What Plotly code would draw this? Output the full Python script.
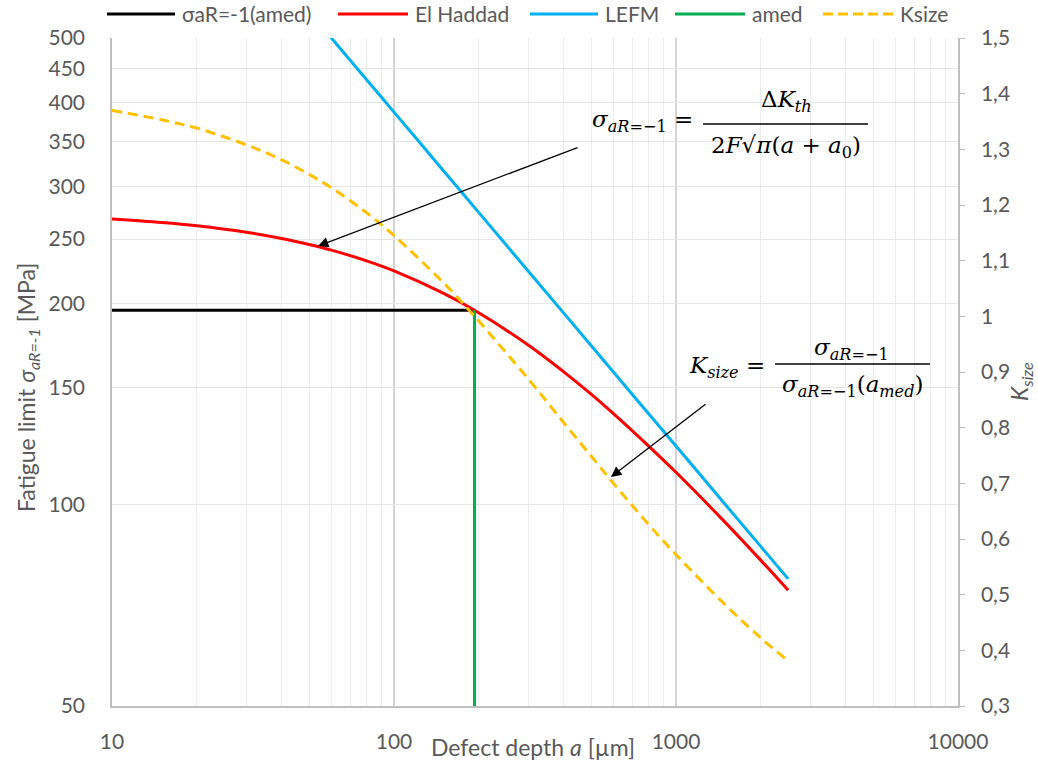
import plotly.graph_objects as go

# Defect depth a [µm] at which the curves are tabulated
depth = [10, 15, 20, 30, 40, 50, 60, 80, 100, 150, 193, 300, 400, 500, 600, 800, 1000, 1500, 2000, 2500]

# El Haddad fatigue limit [MPa]
el_haddad = [267.9, 264.7, 261.7, 255.9, 250.5, 245.4, 240.7, 231.9, 224.0, 207.3, 195.6,
             173.4, 158.2, 146.5, 137.0, 122.5, 111.9, 94.0, 82.6, 74.5]

# LEFM fatigue limit [MPa]
lefm_depth = [50, 60, 80, 100, 150, 200, 300, 400, 500, 600, 800, 1000, 1500, 2000, 2500]
lefm = [547.7, 500.0, 433.0, 387.3, 316.2, 273.9, 223.6, 193.7, 173.2, 158.1, 136.9, 122.5, 100.0, 86.6, 77.5]

# Size factor K_size (right axis)
k_size = [1.370, 1.353, 1.338, 1.308, 1.281, 1.255, 1.231, 1.186, 1.145, 1.060, 1.000,
          0.887, 0.809, 0.749, 0.700, 0.626, 0.572, 0.481, 0.422, 0.381]

# Median defect depth and its fatigue limit
a_med = 193
sigma_med = 195.6
amed_line_depth = [10, a_med]
amed_line_sigma = [sigma_med, sigma_med]
green_depth = [a_med, a_med]
green_sigma = [50, sigma_med]

# Axis ticks
x_ticks = [10, 100, 1000, 10000]
x_minor = [20, 30, 40, 50, 60, 70, 80, 90, 200, 300, 400, 500, 600, 700, 800, 900,
           2000, 3000, 4000, 5000, 6000, 7000, 8000, 9000]
y_ticks = [50, 100, 150, 200, 250, 300, 350, 400, 450, 500]
y2_ticks = [0.3, 0.4, 0.5, 0.6, 0.7, 0.8, 0.9, 1.0, 1.1, 1.2, 1.3, 1.4, 1.5]
y2_text = ["0,3", "0,4", "0,5", "0,6", "0,7", "0,8", "0,9", "1", "1,1", "1,2", "1,3", "1,4", "1,5"]

BLACK, RED, BLUE, GREEN, YELLOW = "#000000", "#FF0000", "#00B0F0", "#00B050", "#FFC000"
TXT = "#595959"
FONT = "Lato"
MATH = "DejaVu Serif"
TICK_SIZE = 21

W, H = 1038, 764
L, R, T, B = 112, 80, 38, 58
PW, PH = W - L - R, H - T - B


def px(xp):
    return (xp - L) / PW


def py(yp):
    return (H - B - yp) / PH


fig = go.Figure()
fig.add_trace(go.Scatter(x=amed_line_depth, y=amed_line_sigma, mode="lines",
                         line=dict(color=BLACK, width=3), name="σaR=-1(amed)"))
fig.add_trace(go.Scatter(x=depth, y=el_haddad, mode="lines",
                         line=dict(color=RED, width=3, shape="spline"), name="El Haddad"))
fig.add_trace(go.Scatter(x=lefm_depth, y=lefm, mode="lines",
                         line=dict(color=BLUE, width=3, shape="spline"), name="LEFM"))
fig.add_trace(go.Scatter(x=green_depth, y=green_sigma, mode="lines",
                         line=dict(color=GREEN, width=3), name="amed"))
fig.add_trace(go.Scatter(x=depth, y=k_size, mode="lines", yaxis="y2",
                         line=dict(color=YELLOW, width=3, dash="10px,6px", shape="spline"),
                         name="Ksize"))

shapes = []
annotations = []

# Legend row along the top
legend_items = [
    ("σaR=-1(amed)", BLACK, "solid", 107, 175),
    ("El Haddad", RED, "solid", 338, 408),
    ("LEFM", BLUE, "solid", 530, 598),
    ("amed", GREEN, "solid", 675, 745),
    ("Ksize", YELLOW, "dash", 823, 893),
]
ly = 14
for label, col, dash, x0, x1 in legend_items:
    shapes.append(dict(type="line", xref="paper", yref="paper",
                       x0=px(x0), x1=px(x1), y0=py(ly), y1=py(ly),
                       line=dict(color=col, width=3, dash="10px,5px" if dash == "dash" else "solid")))
    annotations.append(dict(xref="paper", yref="paper", x=px(x1 + 5), y=py(ly),
                            xanchor="left", yanchor="middle", showarrow=False,
                            text=label, font=dict(family=FONT, size=21, color=TXT)))

# Axis titles
annotations.append(dict(xref="paper", yref="paper", x=px(533), y=py(747),
                        xanchor="center", yanchor="middle", showarrow=False,
                        text="Defect depth <i>a</i> [µm]",
                        font=dict(family=FONT, size=23, color=TXT)))
annotations.append(dict(xref="paper", yref="paper", x=px(27), y=py(388),
                        xanchor="center", yanchor="middle", showarrow=False, textangle=-90,
                        text="Fatigue limit <i>σ<sub>aR=-1</sub></i> [MPa]",
                        font=dict(family=FONT, size=23, color=TXT)))
annotations.append(dict(xref="paper", yref="paper", x=px(1020), y=py(382),
                        xanchor="center", yanchor="middle", showarrow=False, textangle=-90,
                        text="<i>K<sub>size</sub></i>",
                        font=dict(family=FONT, size=23, color=TXT)))

# El Haddad formula
mf = dict(family=MATH, size=23, color="#000000")
annotations.append(dict(xref="paper", yref="paper", x=px(695), y=py(121),
                        xanchor="right", yanchor="middle", showarrow=False,
                        text="<i>σ</i><sub><i>aR</i>=−1</sub> =", font=mf))
annotations.append(dict(xref="paper", yref="paper", x=px(786), y=py(101),
                        xanchor="center", yanchor="middle", showarrow=False,
                        text="Δ<i>K</i><sub><i>th</i></sub>", font=mf))
annotations.append(dict(xref="paper", yref="paper", x=px(786), y=py(147),
                        xanchor="center", yanchor="middle", showarrow=False,
                        text="2<i>F</i>√<i>π</i>(<i>a</i> + <i>a</i><sub>0</sub>)", font=mf))
shapes.append(dict(type="line", xref="paper", yref="paper", x0=px(703), x1=px(868),
                   y0=py(124), y1=py(124), line=dict(color="#000000", width=1.5)))

# K_size formula
annotations.append(dict(xref="paper", yref="paper", x=px(767), y=py(367),
                        xanchor="right", yanchor="middle", showarrow=False,
                        text="<i>K</i><sub><i>size</i></sub> =", font=mf))
annotations.append(dict(xref="paper", yref="paper", x=px(851), y=py(349),
                        xanchor="center", yanchor="middle", showarrow=False,
                        text="<i>σ</i><sub><i>aR</i>=−1</sub>", font=mf))
annotations.append(dict(xref="paper", yref="paper", x=px(852), y=py(386),
                        xanchor="center", yanchor="middle", showarrow=False,
                        text="<i>σ</i><sub><i>aR</i>=−1</sub>(<i>a</i><sub><i>med</i></sub>)", font=mf))
shapes.append(dict(type="line", xref="paper", yref="paper", x0=px(775), x1=px(930),
                   y0=py(364), y1=py(364), line=dict(color="#000000", width=1.5)))

# Arrows pointing at the curves
for tip, tail in [((318, 246), (579, 147)), ((611, 477), (707, 403))]:
    annotations.append(dict(xref="paper", yref="paper", x=px(tip[0]), y=py(tip[1]),
                            ax=tail[0] - tip[0], ay=tail[1] - tip[1], text="",
                            showarrow=True, arrowhead=2, arrowsize=1.6, arrowwidth=1.3,
                            arrowcolor="#000000"))

fig.update_layout(
    width=W, height=H,
    margin=dict(l=L, r=R, t=T, b=B, autoexpand=False),
    paper_bgcolor="white", plot_bgcolor="white",
    showlegend=False, hovermode=False,
    font=dict(family=FONT, size=TICK_SIZE, color=TXT),
    shapes=shapes, annotations=annotations,
    xaxis=dict(type="log", range=[1, 4], tickvals=x_ticks, ticktext=[str(v) for v in x_ticks],
               showgrid=True, gridcolor="#d4d4d4", gridwidth=1.5,
               minor=dict(tickvals=x_minor, showgrid=True, gridcolor="#ececec", gridwidth=1, ticks=""),
               showline=True, linecolor="#bfbfbf", linewidth=1.5, ticks="",
               ticklabelstandoff=16, zeroline=False, automargin=False,
               tickfont=dict(family=FONT, size=TICK_SIZE, color=TXT)),
    yaxis=dict(type="log", range=[1.69897, 2.69897], tickvals=y_ticks,
               ticktext=[str(v) for v in y_ticks],
               showgrid=True, gridcolor="#e6e6e6", gridwidth=1,
               showline=True, linecolor="#bfbfbf", linewidth=1.5, ticks="",
               ticklabelstandoff=21, zeroline=False, automargin=False,
               tickfont=dict(family=FONT, size=TICK_SIZE, color=TXT)),
    yaxis2=dict(overlaying="y", side="right", range=[0.3, 1.5], tickvals=y2_ticks,
                ticktext=y2_text, showgrid=False, zeroline=False, automargin=False,
                showline=True, linecolor="#bfbfbf", linewidth=1.5,
                ticks="outside", ticklen=5, tickcolor="#bfbfbf", ticklabelstandoff=12,
                tickfont=dict(family=FONT, size=TICK_SIZE, color=TXT)),
)

fig.write_html("out.html")
